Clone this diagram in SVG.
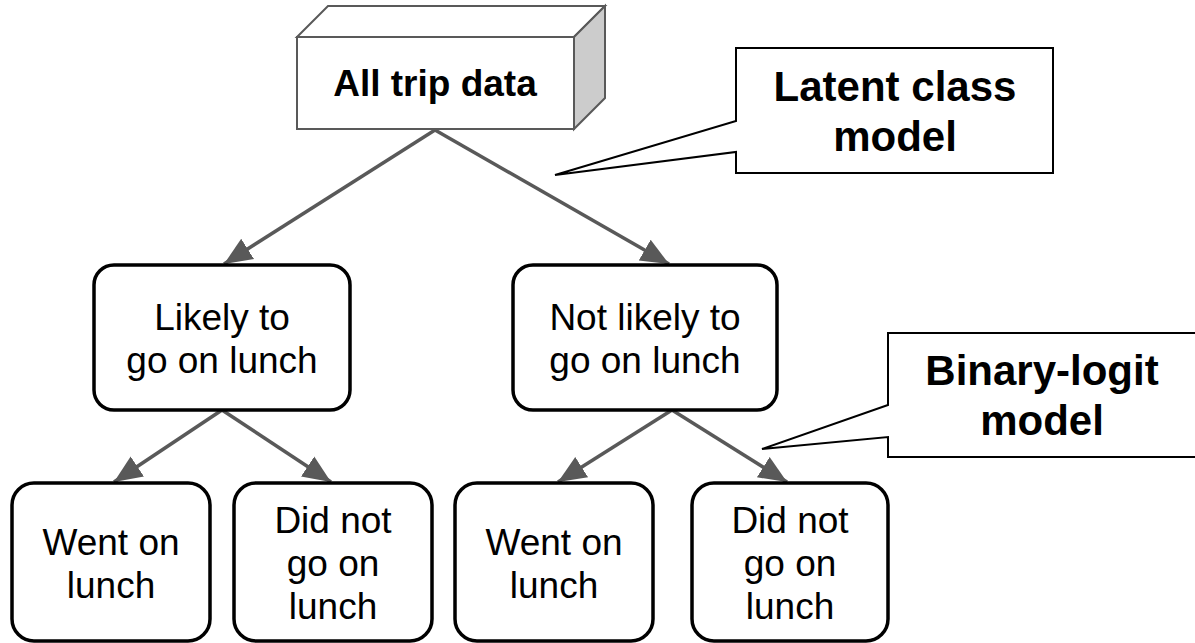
<svg xmlns="http://www.w3.org/2000/svg" width="1195" height="643" viewBox="0 0 1195 643">
<style>
.node{fill:#fff;stroke:#000;stroke-width:3.5}
.t{font-family:"Liberation Sans",Arial,sans-serif;font-size:37px;fill:#000;text-anchor:middle}
.b{font-family:"Liberation Sans",Arial,sans-serif;font-size:42px;font-weight:bold;fill:#000;text-anchor:middle}
.conn{stroke:#595959;stroke-width:3.5;fill:none;marker-end:url(#ah)}
.call{fill:#fff;stroke:#000;stroke-width:2}
</style>
<defs>
<marker id="ah" markerUnits="userSpaceOnUse" markerWidth="30" markerHeight="30" viewBox="0 0 30 30" refX="28" refY="15" orient="auto">
<path d="M0,3 L28,15 L0,27 Z" fill="#595959"/>
</marker>
</defs>
<rect width="1195" height="643" fill="#fff"/>
<g id="connectors">
<line class="conn" x1="435" y1="130" x2="224" y2="264"/>
<line class="conn" x1="435" y1="130" x2="669" y2="264"/>
<line class="conn" x1="222" y1="410" x2="114" y2="482"/>
<line class="conn" x1="222" y1="410" x2="331" y2="482"/>
<line class="conn" x1="672" y1="410" x2="558" y2="482"/>
<line class="conn" x1="672" y1="410" x2="787" y2="482"/>
</g>
<g id="all-trip-data">
<polygon points="297,37 328,6 605,6 574,37" fill="#fff" stroke="#595959" stroke-width="2"/>
<polygon points="574,37 605,6 605,98 574,129" fill="#cccccc" stroke="#595959" stroke-width="2"/>
<rect x="297" y="37" width="277" height="92" fill="#fff" stroke="#595959" stroke-width="2"/>
<text class="b" x="435" y="96" style="font-size:37px">All trip data</text>
</g>
<g id="latent-class-model">
<path class="call" d="M736,48 H1053 V173 H736 V152 L555,175 L736,121 Z"/>
<text class="b" x="895" y="101">Latent class</text>
<text class="b" x="895" y="151">model</text>
</g>
<g id="binary-logit-model">
<path class="call" d="M1196,333 H888 V405 L762,449 L888,437 V457 H1196"/>
<text class="b" x="1042" y="385">Binary-logit</text>
<text class="b" x="1042" y="435">model</text>
</g>
<g id="likely">
<rect class="node" x="94" y="265" width="256" height="145" rx="20"/>
<text class="t" x="222" y="330">Likely to</text>
<text class="t" x="222" y="373">go on lunch</text>
</g>
<g id="not-likely">
<rect class="node" x="513" y="265" width="264" height="145" rx="20"/>
<text class="t" x="645" y="330">Not likely to</text>
<text class="t" x="645" y="373">go on lunch</text>
</g>
<g id="went-1">
<rect class="node" x="12" y="483" width="198" height="158" rx="22"/>
<text class="t" x="111" y="555">Went on</text>
<text class="t" x="111" y="598">lunch</text>
</g>
<g id="didnot-1">
<rect class="node" x="234" y="483" width="198" height="158" rx="22"/>
<text class="t" x="333" y="533">Did not</text>
<text class="t" x="333" y="576">go on</text>
<text class="t" x="333" y="619">lunch</text>
</g>
<g id="went-2">
<rect class="node" x="455" y="483" width="198" height="158" rx="22"/>
<text class="t" x="554" y="555">Went on</text>
<text class="t" x="554" y="598">lunch</text>
</g>
<g id="didnot-2">
<rect class="node" x="692" y="483" width="196" height="158" rx="22"/>
<text class="t" x="790" y="533">Did not</text>
<text class="t" x="790" y="576">go on</text>
<text class="t" x="790" y="619">lunch</text>
</g>
</svg>
